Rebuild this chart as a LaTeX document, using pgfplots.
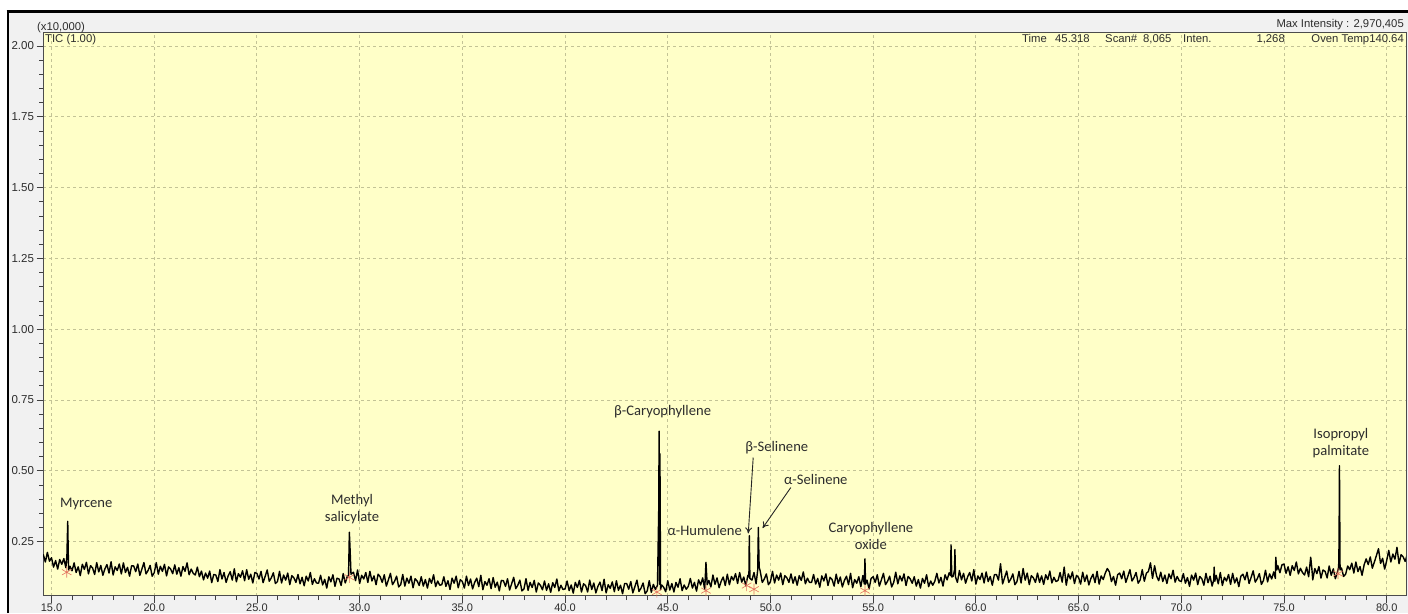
\documentclass[border=0pt]{standalone}
\usepackage{fontspec}
\setmainfont{Liberation Sans}
\newfontfamily\calib{Carlito}
\usepackage{pgfplots}
\usepackage{pgfplotstable}
\pgfplotsset{compat=1.18}
\usetikzlibrary{arrows.meta}
\definecolor{bgy}{RGB}{255,255,200}
\definecolor{gridc}{RGB}{195,195,150}
\definecolor{txt}{RGB}{45,45,45}
\definecolor{mk}{RGB}{228,115,95}
\definecolor{frame}{RGB}{241,241,241}

\pgfplotstableread{
x y
14.6 .205
14.7 .178
14.8 .212
14.9 .181
15.0 .193
15.1 .160
15.2 .183
15.3 .153
15.4 .187
15.5 .170
15.6 .190
15.7 .158
15.75 .200
15.79 .322
15.83 .150
15.9 .163
16.0 .147
16.1 .175
16.2 .141
16.3 .161
16.4 .130
16.5 .170
16.6 .152
16.7 .177
16.8 .136
16.9 .165
17.0 .157
17.1 .134
17.2 .176
17.3 .143
17.4 .166
17.5 .131
17.6 .154
17.7 .169
17.8 .139
17.9 .179
18.0 .132
18.1 .161
18.2 .148
18.3 .171
18.4 .136
18.5 .175
18.6 .141
18.7 .159
18.8 .128
18.9 .165
19.0 .164
19.1 .144
19.2 .171
19.3 .131
19.4 .153
19.5 .176
19.6 .136
19.7 .148
19.8 .166
19.9 .128
20.0 .140
20.1 .176
20.2 .135
20.3 .163
20.4 .145
20.5 .170
20.6 .129
20.7 .161
20.8 .153
20.9 .137
21.0 .168
21.1 .135
21.2 .158
21.3 .128
21.4 .162
21.5 .145
21.6 .175
21.7 .133
21.8 .153
21.9 .138
22.0 .132
22.1 .160
22.2 .126
22.3 .146
22.4 .115
22.5 .139
22.6 .121
22.7 .146
22.8 .105
22.9 .134
23.0 .132
23.1 .109
23.2 .151
23.3 .118
23.4 .141
23.5 .106
23.6 .129
23.7 .144
23.8 .114
23.9 .154
24.0 .108
24.1 .137
24.2 .124
24.3 .147
24.4 .112
24.5 .151
24.6 .117
24.7 .135
24.8 .104
24.9 .141
25.0 .138
25.1 .118
25.2 .145
25.3 .105
25.4 .127
25.5 .150
25.6 .110
25.7 .122
25.8 .140
25.9 .102
26.0 .109
26.1 .145
26.2 .104
26.3 .132
26.4 .114
26.5 .139
26.6 .098
26.7 .130
26.8 .122
26.9 .106
27.0 .134
27.1 .101
27.2 .124
27.3 .094
27.4 .128
27.5 .111
27.6 .141
27.7 .099
27.8 .119
27.9 .104
28.0 .103
28.1 .131
28.2 .097
28.3 .117
28.4 .086
28.5 .126
28.6 .108
28.7 .133
28.8 .092
28.9 .121
29.0 .118
29.1 .095
29.2 .137
29.3 .104
29.4 .127
29.46 .130
29.5 .283
29.54 .215
29.58 .135
29.7 .142
29.8 .112
29.9 .150
30.0 .102
30.1 .131
30.2 .118
30.3 .141
30.4 .106
30.5 .145
30.6 .111
30.7 .129
30.8 .098
30.9 .135
31.0 .126
31.1 .106
31.2 .133
31.3 .093
31.4 .115
31.5 .138
31.6 .098
31.7 .110
31.8 .128
31.9 .090
32.0 .098
32.1 .134
32.2 .093
32.3 .121
32.4 .103
32.5 .128
32.6 .087
32.7 .119
32.8 .111
32.9 .095
33.0 .126
33.1 .093
33.2 .116
33.3 .086
33.4 .120
33.5 .103
33.6 .133
33.7 .091
33.8 .111
33.9 .096
34.0 .098
34.1 .126
34.2 .092
34.3 .112
34.4 .081
34.5 .121
34.6 .103
34.7 .128
34.8 .087
34.9 .116
35.0 .109
35.1 .086
35.2 .128
35.3 .095
35.4 .118
35.5 .083
35.6 .106
35.7 .121
35.8 .091
35.9 .131
36.0 .080
36.1 .109
36.2 .096
36.3 .119
36.4 .084
36.5 .123
36.6 .089
36.7 .107
36.8 .076
36.9 .113
37.0 .112
37.1 .092
37.2 .119
37.3 .079
37.4 .101
37.5 .124
37.6 .084
37.7 .096
37.8 .114
37.9 .076
38.0 .083
38.1 .119
38.2 .078
38.3 .106
38.4 .088
38.5 .113
38.6 .072
38.7 .104
38.8 .096
38.9 .080
39.0 .111
39.1 .078
39.2 .101
39.3 .071
39.4 .105
39.5 .088
39.6 .118
39.7 .076
39.8 .096
39.9 .081
40.0 .083
40.1 .111
40.2 .077
40.3 .097
40.4 .068
40.5 .106
40.6 .088
40.7 .113
40.8 .072
40.9 .101
41.0 .095
41.1 .072
41.2 .114
41.3 .081
41.4 .104
41.5 .069
41.6 .092
41.7 .107
41.8 .077
41.9 .117
42.0 .069
42.1 .098
42.2 .085
42.3 .108
42.4 .073
42.5 .112
42.6 .078
42.7 .096
42.8 .066
42.9 .102
43.0 .102
43.1 .082
43.2 .109
43.3 .069
43.4 .091
43.5 .114
43.6 .074
43.7 .086
43.8 .104
43.9 .066
44.0 .076
44.1 .112
44.2 .071
44.3 .099
44.4 .081
44.5 .096
44.56 .360
44.58 .640
44.60 .100
44.62 .560
44.65 .080
44.7 .097
44.8 .089
44.9 .073
45.0 .112
45.1 .079
45.2 .102
45.3 .072
45.4 .106
45.5 .089
45.6 .119
45.7 .077
45.8 .097
45.9 .082
46.0 .092
46.1 .120
46.2 .086
46.3 .106
46.4 .075
46.5 .115
46.6 .097
46.7 .122
46.8 .081
46.86 .177
46.92 .098
47.0 .113
47.1 .090
47.2 .132
47.3 .099
47.4 .122
47.5 .087
47.6 .110
47.7 .125
47.8 .095
47.9 .135
48.0 .098
48.1 .127
48.2 .114
48.3 .137
48.4 .102
48.5 .141
48.6 .107
48.7 .125
48.8 .094
48.9 .131
48.95 .125
48.97 .271
49.0 .120
49.1 .114
49.2 .141
49.3 .101
49.38 .150
49.41 .300
49.45 .160
49.5 .146
49.6 .106
49.7 .118
49.8 .136
49.9 .098
50.0 .109
50.1 .145
50.2 .104
50.3 .132
50.4 .114
50.5 .139
50.6 .098
50.7 .130
50.8 .122
50.9 .106
51.0 .136
51.1 .103
51.2 .126
51.3 .096
51.4 .130
51.5 .113
51.6 .143
51.7 .101
51.8 .121
51.9 .106
52.0 .106
52.1 .134
52.2 .100
52.3 .120
52.4 .089
52.5 .129
52.6 .111
52.7 .136
52.8 .095
52.9 .124
53.0 .116
53.1 .093
53.2 .135
53.3 .102
53.4 .125
53.5 .090
53.6 .113
53.7 .128
53.8 .098
53.9 .138
54.0 .087
54.1 .116
54.2 .103
54.3 .126
54.4 .091
54.5 .130
54.57 .100
54.6 .189
54.63 .100
54.7 .114
54.8 .083
54.9 .120
55.0 .126
55.1 .106
55.2 .133
55.3 .093
55.4 .115
55.5 .138
55.6 .098
55.7 .110
55.8 .128
55.9 .090
56.0 .106
56.1 .142
56.2 .101
56.3 .129
56.4 .111
56.5 .136
56.6 .095
56.7 .127
56.8 .119
56.9 .103
57.0 .126
57.1 .093
57.2 .116
57.3 .086
57.4 .120
57.5 .103
57.6 .133
57.7 .091
57.8 .111
57.9 .096
58.0 .110
58.1 .138
58.2 .104
58.3 .124
58.4 .093
58.5 .133
58.6 .115
58.7 .140
58.77 .130
58.79 .239
58.83 .125
58.9 .128
58.96 .150
58.98 .222
59.01 .125
59.1 .106
59.2 .148
59.3 .115
59.4 .138
59.5 .103
59.6 .126
59.7 .141
59.8 .111
59.9 .151
60.0 .100
60.1 .129
60.2 .116
60.3 .139
60.4 .104
60.5 .143
60.6 .109
60.7 .127
60.8 .096
60.9 .133
61.0 .134
61.1 .114
61.2 .172
61.3 .101
61.4 .123
61.5 .146
61.6 .106
61.7 .118
61.8 .136
61.9 .098
62.0 .109
62.1 .145
62.2 .104
62.3 .155
62.4 .114
62.5 .139
62.6 .098
62.7 .130
62.8 .122
62.9 .106
63.0 .139
63.1 .106
63.2 .129
63.3 .099
63.4 .133
63.5 .116
63.6 .146
63.7 .104
63.8 .124
63.9 .109
64.0 .113
64.1 .141
64.2 .107
64.3 .160
64.4 .096
64.5 .136
64.6 .118
64.7 .143
64.8 .102
64.9 .131
65.0 .123
65.1 .100
65.2 .142
65.3 .109
65.4 .132
65.5 .097
65.6 .120
65.7 .135
65.8 .105
65.9 .145
66.0 .100
66.1 .129
66.2 .116
66.3 .139
66.4 .155
66.5 .143
66.6 .109
66.7 .127
66.8 .096
66.9 .133
67.0 .139
67.1 .119
67.2 .146
67.3 .106
67.4 .128
67.5 .151
67.6 .111
67.7 .123
67.8 .141
67.9 .103
68.0 .115
68.1 .151
68.2 .110
68.3 .138
68.4 .145
68.5 .175
68.6 .120
68.7 .165
68.8 .128
68.9 .112
69.0 .142
69.1 .109
69.2 .132
69.3 .102
69.4 .136
69.5 .119
69.6 .149
69.7 .107
69.8 .127
69.9 .112
70.0 .109
70.1 .137
70.2 .103
70.3 .123
70.4 .092
70.5 .132
70.6 .114
70.7 .139
70.8 .098
70.9 .127
71.0 .119
71.1 .096
71.2 .138
71.3 .105
71.4 .128
71.5 .093
71.58 .115
71.6 .160
71.63 .110
71.7 .131
71.8 .101
71.9 .141
72.0 .095
72.1 .124
72.2 .111
72.3 .134
72.4 .099
72.5 .138
72.6 .104
72.7 .122
72.8 .091
72.9 .128
73.0 .135
73.1 .115
73.2 .142
73.3 .102
73.4 .124
73.5 .147
73.6 .107
73.7 .119
73.8 .137
73.9 .099
74.0 .113
74.1 .149
74.2 .108
74.3 .136
74.4 .118
74.5 .143
74.58 .120
74.6 .195
74.65 .150
74.7 .165
74.8 .140
74.9 .168
75.0 .171
75.1 .138
75.2 .161
75.3 .131
75.4 .165
75.5 .148
75.6 .178
75.7 .136
75.8 .156
75.9 .141
76.0 .132
76.1 .160
76.2 .126
76.3 .195
76.35 .160
76.4 .115
76.5 .155
76.6 .137
76.7 .162
76.8 .121
76.9 .150
77.0 .145
77.1 .122
77.2 .164
77.3 .131
77.4 .154
77.5 .119
77.6 .142
77.66 .160
77.68 .245
77.70 .518
77.73 .150
77.8 .157
77.9 .127
78.0 .135
78.1 .164
78.2 .151
78.3 .174
78.4 .139
78.5 .178
78.6 .144
78.7 .162
78.8 .131
78.9 .168
79.0 .189
79.1 .169
79.2 .196
79.3 .156
79.4 .178
79.5 .201
79.6 .225
79.7 .173
79.8 .191
79.9 .153
80.0 .183
80.1 .219
80.2 .178
80.3 .206
80.4 .188
80.5 .230
80.6 .172
80.7 .204
80.8 .196
80.9 .180
81.0 .205
}\trace

\begin{document}
\begin{tikzpicture}[x=1pt,y=1pt]
\fill[white] (0,0) rectangle (1408,613);
\fill[frame] (8,0) rectangle (1408,601.5);
\useasboundingbox (0,0) rectangle (1408,613);
\draw[black, line width=2.6pt] (6.7,601.5) -- (1408,601.5);
\draw[black, line width=2.6pt] (8,0) -- (8,602.8);
\begin{axis}[
  at={(43pt,17pt)}, anchor=south west,
  scale only axis, width=1363pt, height=563pt,
  xmin=14.586, xmax=80.94, ymin=0.058, ymax=2.046,
  xtick={15,20,25,30,35,40,45,50,55,60,65,70,75,80},
  ytick={0.25,0.5,0.75,1,1.25,1.5,1.75,2},
  minor x tick num=4, minor y tick num=4,
  xtick pos=bottom, ytick pos=left,
  tick align=outside,
  major tick length=6.5pt, minor tick length=4pt,
  every tick/.style={black!75, line width=0.8pt},
  axis line style={black!70, line width=1pt},
  axis background/.style={fill=bgy},
  grid=major,
  major grid style={gridc, dash pattern=on 3pt off 3pt, line width=0.9pt},
  scaled y ticks=false, scaled x ticks=false,
  /pgf/number format/assume math mode=true,
  x tick label style={font=\fontsize{11}{12}\selectfont, text=txt, anchor=north, inner sep=0pt, yshift=-1.5pt,
     /pgf/number format/.cd, fixed, fixed zerofill, precision=1},
  y tick label style={font=\fontsize{11.5}{12}\selectfont, text=txt,
     /pgf/number format/.cd, fixed, fixed zerofill, precision=2},
  yticklabel shift=-1pt,
]
\addplot[black, line width=1.4pt, line join=round] table[x=x,y=y] {\trace};
\addplot[only marks, mark=asterisk, mark size=5.5pt, mk, mark options={line width=0.6pt}]
  coordinates {(15.74,0.142) (29.50,0.124) (44.47,0.072) (46.86,0.077)
               (48.84,0.095) (49.20,0.082) (54.60,0.077) (77.63,0.137)};

\begin{scope}[every node/.style={font=\calib\fontsize{14.6}{17}\selectfont, text=txt, align=center, inner sep=0pt}]
\node at (axis cs:16.69,0.383) {Myrcene};
\node at (axis cs:29.63,0.366) {Methyl\\salicylate};
\node at (axis cs:44.75,0.709) {β-Caryophyllene};
\node at (axis cs:50.31,0.583) {β-Selinene};
\node at (axis cs:52.21,0.468) {α-Selinene};
\node at (axis cs:46.80,0.291) {α-Humulene};
\node at (axis cs:54.89,0.270) {Caryophyllene\\oxide};
\node at (axis cs:77.77,0.598) {Isopropyl\\palmitate};
\end{scope}
\draw[-{To[length=6pt,width=7pt]}, black!85, line width=0.9pt] (axis cs:49.16,0.547) -- (axis cs:48.92,0.279);
\draw[-{To[length=6pt,width=7pt]}, black!85, line width=0.9pt] (axis cs:50.99,0.441) -- (axis cs:49.62,0.298);
\end{axis}

\begin{scope}[every node/.style={font=\fontsize{11.3}{12}\selectfont, text=txt, inner sep=0pt}]
\node[anchor=base west] at (37,582) {(x10,000)};
\node[anchor=base west] at (45,570) {TIC (1.00)};
\node[anchor=base east] at (1404,585) {Max Intensity : 2,970,405};
\node[anchor=base west] at (1022,570) {Time};
\node[anchor=base west] at (1055,570) {45.318};
\node[anchor=base west] at (1105,570) {Scan\#};
\node[anchor=base west] at (1143,570) {8,065};
\node[anchor=base west] at (1183,570) {Inten.};
\node[anchor=base east] at (1285,570) {1,268};
\node[anchor=base east] at (1404,570) {Oven Temp140.64};
\end{scope}
\end{tikzpicture}
\end{document}
